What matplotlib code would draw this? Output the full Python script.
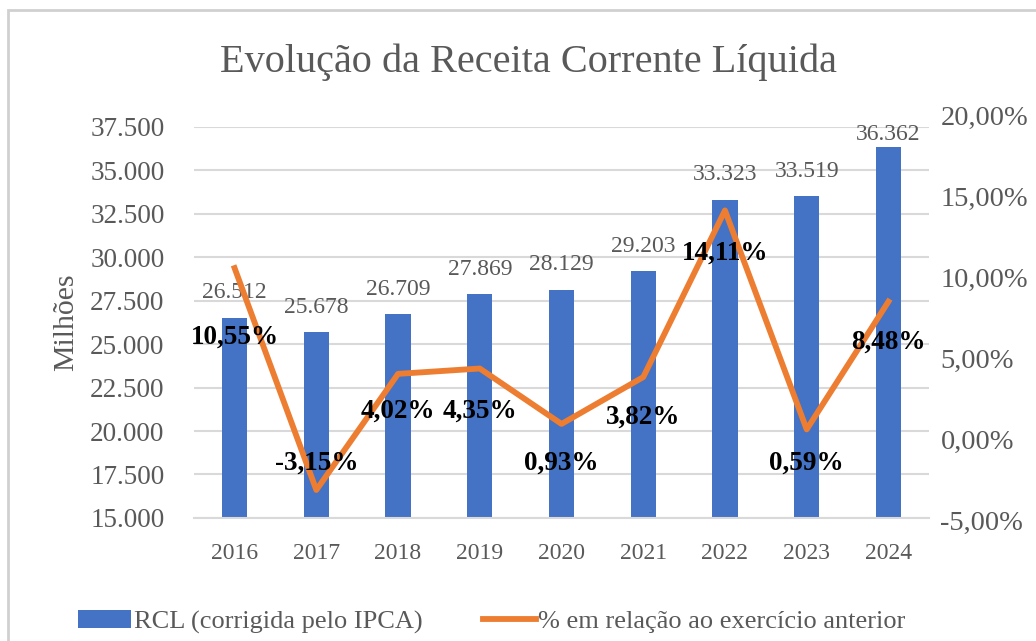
import matplotlib
matplotlib.use('Agg')
import matplotlib.pyplot as plt
from matplotlib.patches import Rectangle

plt.rcParams['font.family'] = ['Liberation Serif', 'DejaVu Serif']

anos = ['2016', '2017', '2018', '2019', '2020', '2021', '2022', '2023', '2024']
rcl = [26512, 25678, 26709, 27869, 28129, 29203, 33323, 33519, 36362]
variacao = [10.55, -3.15, 4.02, 4.35, 0.93, 3.82, 14.11, 0.59, 8.48]

# where the % labels sit (in % units of the right axis)
pct_label_y = [6.3, -1.5, 1.7, 1.7, -1.5, 1.35, 11.5, -1.5, 6.0]

azul = '#4472C4'
laranja = '#ED7D31'
cinza = '#595959'

fig = plt.figure(figsize=(10.36, 6.41), dpi=100)
ax = fig.add_axes([0.187, 0.192, 0.710, 0.610])
# right axis is a bit taller than the left one in the original
ax2 = fig.add_axes([0.187, 0.1888, 0.710, 0.6318], sharex=ax)
ax2.patch.set_visible(False)

x = list(range(len(anos)))
ax.bar(x, rcl, width=0.31, color=azul, zorder=2, label='RCL (corrigida pelo IPCA)')
ax.set_ylim(15000, 37500)
ax.set_xlim(-0.5, len(anos) - 0.5)
ax.set_yticks(range(15000, 37501, 2500))
ax.set_yticklabels([f'{v:,}'.replace(',', '.') for v in range(15000, 37501, 2500)])
ax.set_xticks(x)
ax.set_xticklabels(anos)
ax.grid(axis='y', color='#D9D9D9', linewidth=1.5, zorder=0)
ax.set_axisbelow(True)
for s in ['top', 'right', 'left']:
    ax.spines[s].set_visible(False)
ax.spines['bottom'].set_color('#D9D9D9')
ax.spines['bottom'].set_linewidth(1.5)
ax.tick_params(axis='y', length=0, labelsize=19.5, colors=cinza, pad=21)
ax.tick_params(axis='x', length=0, labelsize=17, colors=cinza, pad=18)
ax.set_ylabel('Milhões', fontsize=21.5, color=cinza, labelpad=8)

for i, v in enumerate(rcl):
    off = 9 if i == len(rcl) - 1 else 18
    ax.annotate(f'{v:,}'.replace(',', '.'), (i, v), xytext=(0, off), textcoords='offset points',
                ha='center', va='center', fontsize=17, color=cinza)

ax2.plot(x, variacao, color=laranja, linewidth=4.2, zorder=3, label='% em relação ao exercício anterior')
ax2.set_ylim(-5, 20)
ax2.yaxis.tick_right()
ax2.set_yticks(range(-5, 21, 5))
ax2.set_yticklabels([f'{v:.2f}%'.replace('.', ',') for v in range(-5, 21, 5)])
ax2.tick_params(axis='y', length=0, labelsize=20.5, colors=cinza, pad=8)
ax2.tick_params(axis='x', bottom=False, labelbottom=False)
for s in ['top', 'right', 'left', 'bottom']:
    ax2.spines[s].set_visible(False)

for i, v in enumerate(variacao):
    ax2.text(i, pct_label_y[i], f'{v:.2f}%'.replace('.', ','), ha='center', va='center',
             fontsize=19.5, fontweight='bold', color='black', zorder=4)

fig.suptitle('Evolução da Receita Corrente Líquida', x=0.51, y=0.903, va='center', fontsize=29, color=cinza)

h1, l1 = ax.get_legend_handles_labels()
h2, l2 = ax2.get_legend_handles_labels()
fig.legend(h1 + h2, l1 + l2, loc='center', bbox_to_anchor=(0.475, 0.03), ncol=2, frameon=False,
           fontsize=19, labelcolor=cinza, handlelength=2.0, handletextpad=0.1, columnspacing=2.3)

fig.patches.append(Rectangle((8 / 1036, -0.05), 1.1, 1 - 10 / 641 + 0.05, transform=fig.transFigure,
                             fill=False, edgecolor='#D0D0D0', linewidth=2))

fig.savefig('out.png', dpi=100)
